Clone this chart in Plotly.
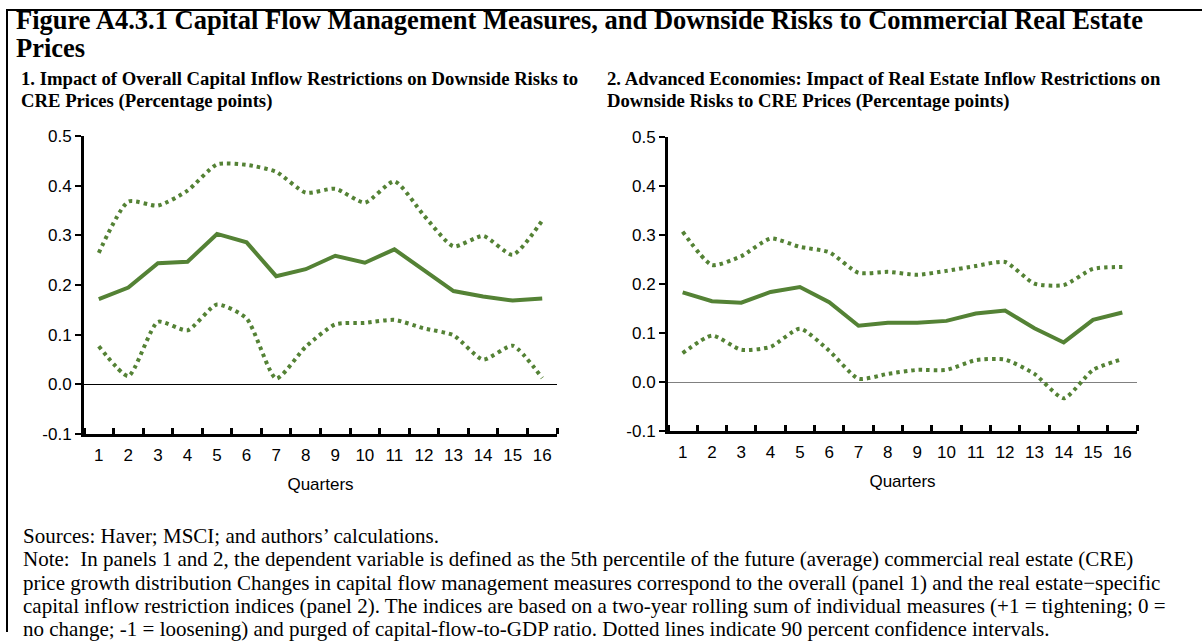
import plotly.graph_objects as go

quarters = list(range(1, 17))

# Panel 1: overall capital inflow restrictions
p1_est = [0.172, 0.195, 0.244, 0.247, 0.303, 0.286, 0.218, 0.232,
          0.259, 0.245, 0.272, 0.230, 0.188, 0.177, 0.169, 0.173]
p1_upper = [0.265, 0.368, 0.360, 0.390, 0.443, 0.442, 0.428, 0.386,
            0.394, 0.366, 0.409, 0.340, 0.278, 0.299, 0.261, 0.330]
p1_lower = [0.077, 0.017, 0.126, 0.109, 0.161, 0.133, 0.012, 0.076,
            0.121, 0.124, 0.130, 0.113, 0.099, 0.050, 0.078, 0.013]

# Panel 2: advanced economies, real estate inflow restrictions
p2_est = [0.183, 0.165, 0.162, 0.184, 0.194, 0.163, 0.115, 0.121,
          0.121, 0.125, 0.140, 0.146, 0.110, 0.081, 0.127, 0.142]
p2_upper = [0.307, 0.239, 0.257, 0.293, 0.276, 0.265, 0.223, 0.225,
            0.219, 0.227, 0.237, 0.245, 0.201, 0.198, 0.231, 0.235]
p2_lower = [0.059, 0.095, 0.066, 0.072, 0.109, 0.064, 0.007, 0.017,
            0.025, 0.025, 0.045, 0.046, 0.017, -0.033, 0.025, 0.047]

y_ticks = [-0.1, 0.0, 0.1, 0.2, 0.3, 0.4, 0.5]
y_labels = ["-0.1", "0.0", "0.1", "0.2", "0.3", "0.4", "0.5"]

title_lines = ["Figure A4.3.1 Capital Flow Management Measures, and Downside Risks to Commercial Real Estate",
               "Prices"]
panel1_title = ["1. Impact of Overall Capital Inflow Restrictions on Downside Risks to",
                "CRE Prices (Percentage points)"]
panel2_title = ["2. Advanced Economies: Impact of Real Estate Inflow Restrictions on",
                "Downside Risks to CRE Prices (Percentage points)"]
note_lines = [
    "Sources: Haver; MSCI; and authors\u2019 calculations.",
    "Note:  In panels 1 and 2, the dependent variable is defined as the 5th percentile of the future (average) commercial real estate (CRE)",
    "price growth distribution Changes in capital flow management measures correspond to the overall (panel 1) and the real estate\u2212specific",
    "capital inflow restriction indices (panel 2). The indices are based on a two-year rolling sum of individual measures (+1 = tightening; 0 =",
    "no change; -1 = loosening) and purged of capital-flow-to-GDP ratio. Dotted lines indicate 90 percent confidence intervals.",
]

GREEN = "#548235"
W, H = 1202, 642

# the photographed page comes out slightly squeezed vertically (measured: shown_y = 0.97 * y + 8),
# so vertical positions are given as where they should appear and mapped back here
Y_SCALE, Y_SHIFT = 0.970, 8.0


def px_x(v):
    return v / W


def px_y(v):
    return 1 - ((v - Y_SHIFT) / Y_SCALE) / H


fig = go.Figure()

panels = [
    ("x", "y", p1_est, p1_upper, p1_lower),
    ("x2", "y2", p2_est, p2_upper, p2_lower),
]
for xa, ya, est, up, lo in panels:
    for band in (up, lo):
        fig.add_trace(go.Scatter(x=quarters, y=band, xaxis=xa, yaxis=ya, mode="lines",
                                 line=dict(color=GREEN, width=4, dash="3.5px,4px", shape="spline",
                                           smoothing=0.6),
                                 showlegend=False, hoverinfo="skip"))
    fig.add_trace(go.Scatter(x=quarters, y=est, xaxis=xa, yaxis=ya, mode="lines",
                             line=dict(color=GREEN, width=4),
                             showlegend=False))

tick_font = dict(family="Liberation Sans, Arial", size=17, color="black")


def xaxis_style(x0, x1):
    return dict(domain=[px_x(x0), px_x(x1)], range=[0.5, 16.5],
                tickmode="array", tickvals=quarters, ticktext=[str(q) for q in quarters],
                ticks="", showline=True, linecolor="black", linewidth=3,
                showgrid=False, zeroline=False, tickfont=tick_font,
                ticklabelstandoff=3,
                minor=dict(tickmode="array", tickvals=[q + 0.5 for q in [0] + quarters],
                           ticks="inside", ticklen=6, tickwidth=3, tickcolor="black",
                           showgrid=False),
                title=dict(text="Quarters", font=tick_font, standoff=15),
                fixedrange=True)


def yaxis_style(y0, y1, zcolor):
    return dict(domain=[px_y(y1), px_y(y0)], range=[-0.1, 0.5],
                tickmode="array", tickvals=y_ticks, ticktext=y_labels,
                ticks="outside", ticklen=6, tickwidth=2, tickcolor="black",
                showline=True, linecolor="black", linewidth=3,
                showgrid=False, zeroline=True, zerolinecolor=zcolor, zerolinewidth=1,
                tickfont=tick_font, fixedrange=True)


fig.update_layout(
    width=W, height=H, margin=dict(l=0, r=0, t=0, b=0),
    paper_bgcolor="white", plot_bgcolor="white",
    xaxis=xaxis_style(84, 557), yaxis=yaxis_style(135, 433, "black"),
    xaxis2=dict(xaxis_style(668, 1137), anchor="y2"),
    yaxis2=dict(yaxis_style(136, 430, "#808080"), anchor="x2"),
)

serif = "Liberation Serif, Times New Roman, serif"
texts = []
for t, y in zip(title_lines, [19, 47]):
    texts.append((15, y, f"<b>{t}</b>", 26.5))
for t, y in zip(panel1_title, [77, 100]):
    texts.append((20, y, f"<b>{t}</b>", 18.7))
for t, y in zip(panel2_title, [77, 100]):
    texts.append((606, y, f"<b>{t}</b>", 18.7))
for t, y in zip(note_lines, [534.8, 558, 581.3, 604.6, 627.9]):
    texts.append((22, y, t, 21))

for x, y, t, s in texts:
    fig.add_annotation(x=px_x(x), y=px_y(y), xref="paper", yref="paper", xanchor="left",
                       yanchor="middle", align="left", showarrow=False, text=t, borderpad=0,
                       font=dict(family=serif, size=s, color="black"))

# outer frame (left and top edges visible)
fig.add_shape(type="line", xref="paper", yref="paper", x0=px_x(7), x1=px_x(7), y0=0, y1=1,
              line=dict(color="black", width=2))
fig.add_shape(type="line", xref="paper", yref="paper", x0=px_x(7), x1=1, y0=1 - 1 / H, y1=1 - 1 / H,
              line=dict(color="black", width=2))

fig.write_html("out.html", config={"displayModeBar": False},
               post_script="document.body.style.margin='0';document.body.style.overflow='hidden';")
